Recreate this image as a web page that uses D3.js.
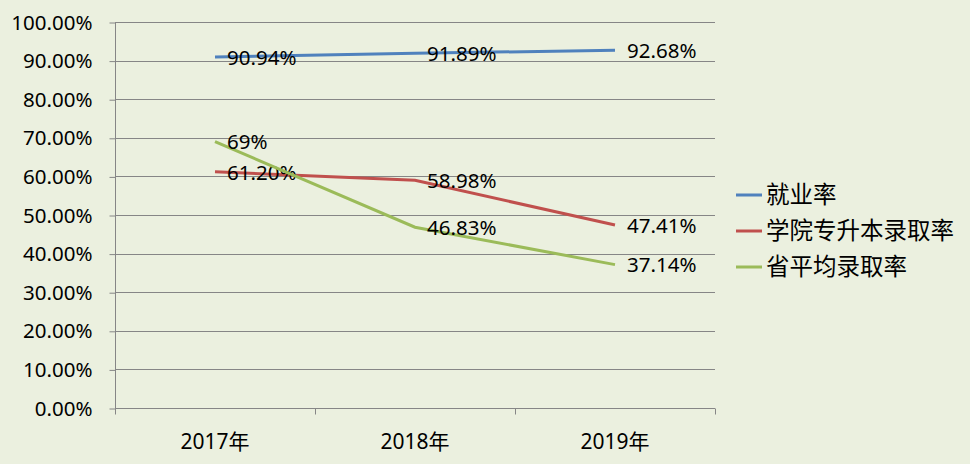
<!DOCTYPE html>
<html>
<head>
<meta charset="utf-8">
<script src="https://cdn.jsdelivr.net/npm/d3@7"></script>
<style>
  body { margin: 0; background: #ebf0df; }
  svg text { font-family: "Noto Sans", "Noto Sans CJK SC", sans-serif; fill: #000; }
  .axis path, .axis line { stroke: #868686; }
  .grid line { stroke: #868686; }
</style>
</head>
<body>
<svg></svg>
<script>
// data
var years = ['2017年', '2018年', '2019年'];
var seriesNames = ['就业率', '学院专升本录取率', '省平均录取率'];
var employment = [90.94, 91.89, 92.68];
var collegeRate = [61.20, 58.98, 47.41];
var provinceRate = [69, 46.83, 37.14];
var labelText = [
    ['90.94%', '91.89%', '92.68%'],
    ['61.20%', '58.98%', '47.41%'],
    ['69%', '46.83%', '37.14%']
];
var yTicks = [0, 10, 20, 30, 40, 50, 60, 70, 80, 90, 100];

var width = 970,
    height = 464,
    color = ['#4f81bd', '#c0504d', '#9bbb59'],
    svg = d3.select('svg')
    .attr('width', width)
    .attr('height', height);

var margin = {left: 115, right: 255, top: 22, bottom: 56};

var x = d3.scaleBand().domain(years).range([margin.left, width - margin.right]),
    y = d3.scaleLinear().domain([0, 100]).range([height - margin.bottom, margin.top]);

var series = [employment, collegeRate, provinceRate].map(function (vals, i) {
    return {name: seriesNames[i], values: vals, labels: labelText[i]};
});

svg.append('rect')
    .attr('width', width)
    .attr('height', height)
    .attr('fill', '#ebf0df');

// horizontal gridlines
svg.append('g')
    .attr('class', 'grid')
    .selectAll('line')
    .data(yTicks.slice(1))
    .enter().append('line')
    .attr('x1', margin.left)
    .attr('x2', width - margin.right)
    .attr('y1', function (d) { return Math.round(y(d)) + 0.5; })
    .attr('y2', function (d) { return Math.round(y(d)) + 0.5; });

var yAxis = d3.axisLeft(y)
    .tickValues(yTicks)
    .tickSize(6)
    .tickPadding(17)
    .tickFormat(function (d) { return d.toFixed(2) + '%'; });

svg.append('g')
    .attr('class', 'axis axis-y')
    .attr('transform', 'translate(' + (margin.left + 0.5) + ',0.5)')
    .call(yAxis)
    .call(function (g) { g.select('.domain').attr('d', 'M0,' + y(100) + 'V' + y(0)); })
    .selectAll('text')
    .style('font-size', '20.5px');

// x axis with ticks at band edges
var xg = svg.append('g')
    .attr('class', 'axis axis-x')
    .attr('transform', 'translate(0,' + (Math.round(y(0)) + 0.5) + ')');

xg.append('line')
    .attr('x1', margin.left)
    .attr('x2', width - margin.right)
    .attr('stroke', '#868686');

var edges = years.map(function (d) { return x(d); }).concat([x(years[2]) + x.bandwidth()]);
xg.selectAll('.tk')
    .data(edges)
    .enter().append('line')
    .attr('class', 'tk')
    .attr('x1', function (d) { return Math.round(d) + 0.5; })
    .attr('x2', function (d) { return Math.round(d) + 0.5; })
    .attr('y1', 0)
    .attr('y2', 6);

xg.selectAll('.lbl')
    .data(years)
    .enter().append('text')
    .attr('class', 'lbl')
    .attr('x', function (d) { return x(d) + x.bandwidth() / 2; })
    .attr('y', 40)
    .attr('text-anchor', 'middle')
    .style('font-size', '21px')
    .text(function (d) { return d; });

var line = d3.line()
    .x(function (d, i) { return x(years[i]) + x.bandwidth() / 2; })
    .y(function (d) { return y(d); });

var layer = svg.selectAll('.layer')
    .data(series)
    .enter().append('g')
    .attr('class', 'layer');

layer.append('path')
    .attr('fill', 'none')
    .attr('stroke-width', 3)
    .attr('stroke', function (d, i) { return color[i]; })
    .attr('d', function (d) { return line(d.values); });

layer.selectAll('.value')
    .data(function (d) {
        return d.values.map(function (v, i) { return {v: v, i: i, t: d.labels[i]}; });
    })
    .enter().append('text')
    .attr('class', 'value')
    .attr('x', function (d) { return x(years[d.i]) + x.bandwidth() / 2 + 12; })
    .attr('y', function (d) { return y(d.v); })
    .attr('dy', '0.38em')
    .style('font-size', '20.5px')
    .text(function (d) { return d.t; });

// legend
var ledgend = svg.append('g')
    .attr('class', 'ledgend')
    .attr('transform', 'translate(736,195)')
    .selectAll('.li')
    .data(seriesNames)
    .enter().append('g')
    .attr('class', 'li')
    .attr('transform', function (d, i) { return 'translate(0,' + (i * 36) + ')'; });

ledgend.append('line')
    .attr('x1', 0)
    .attr('x2', 26)
    .attr('stroke-width', 3)
    .attr('stroke', function (d, i) { return color[i]; });

ledgend.append('text')
    .attr('x', 30)
    .attr('dy', '0.36em')
    .style('font-size', '23.5px')
    .style('font-family', '"Noto Sans CJK SC", sans-serif')
    .text(function (d) { return d; });
</script>
</body>
</html>
